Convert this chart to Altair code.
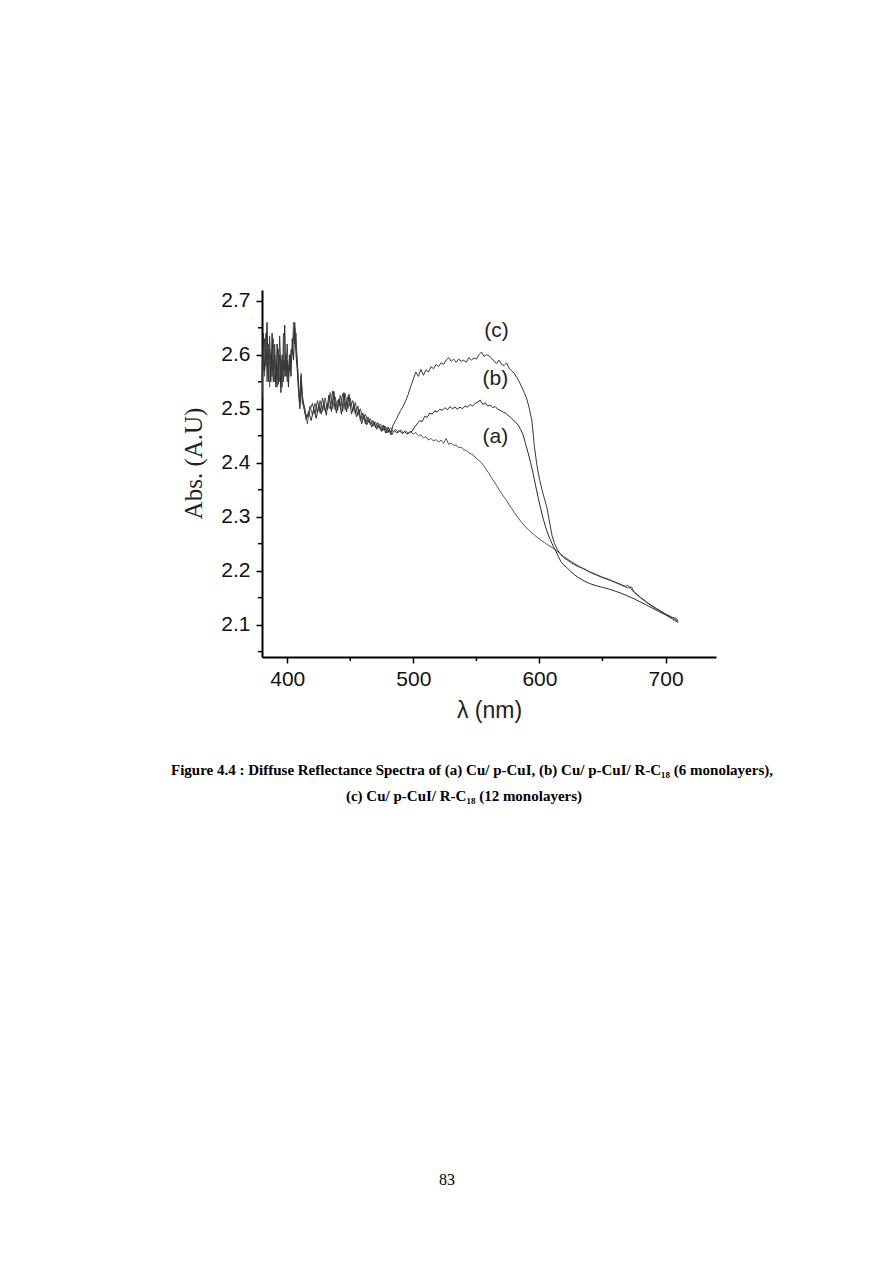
import altair as alt
import pandas as pd

# ---------------- data ----------------
# curve (a) Cu/ p-CuI
A_WL = (list(range(380, 413)) + list(range(414, 581, 2)) +
        [583, 586, 589, 592, 595, 598, 601, 604, 607, 610, 613, 616, 620, 625, 630, 635,
         640, 645, 650, 655, 660, 665, 670, 673, 675, 680, 685, 690, 695, 700, 705, 710])
A_ABS = ([2.52, 2.60, 2.56, 2.64, 2.55, 2.62, 2.54, 2.60, 2.56, 2.63,
          2.55, 2.58, 2.54, 2.61, 2.55, 2.59, 2.54, 2.64, 2.56, 2.60,
          2.55, 2.58, 2.57, 2.61, 2.60, 2.66, 2.62, 2.64, 2.58, 2.55,
          2.51, 2.56, 2.52] +
         [2.500, 2.472, 2.505, 2.488, 2.510, 2.492, 2.515, 2.495, 2.520, 2.498,
          2.530, 2.500, 2.522, 2.497, 2.525, 2.495, 2.528, 2.500, 2.520, 2.495,
          2.512, 2.488, 2.500, 2.480, 2.490, 2.475, 2.482, 2.468, 2.476, 2.465,
          2.472, 2.460, 2.468, 2.456, 2.465, 2.457, 2.462, 2.456, 2.461, 2.455,
          2.459, 2.454, 2.457, 2.453] +
         [2.456, 2.450, 2.452, 2.446, 2.448, 2.442, 2.445, 2.440, 2.443, 2.438,
          2.442, 2.436, 2.445, 2.434, 2.436, 2.432, 2.433, 2.428, 2.429, 2.424,
          2.423, 2.419, 2.416, 2.413, 2.408, 2.404, 2.400, 2.394, 2.387, 2.380,
          2.372, 2.365, 2.358, 2.350, 2.343, 2.336, 2.330, 2.322, 2.315, 2.308] +
         [2.298, 2.289, 2.281, 2.274, 2.268, 2.262, 2.257, 2.252, 2.247, 2.243,
          2.238, 2.232, 2.225, 2.217, 2.210, 2.203, 2.198, 2.193, 2.188, 2.184,
          2.178, 2.173, 2.168, 2.170, 2.161, 2.151, 2.142, 2.134, 2.127, 2.120,
          2.114, 2.106])

# curve (b) Cu/ p-CuI/ R-C18 (6 monolayers)
B_WL = (list(range(380, 413)) + list(range(413, 500, 2)) + list(range(501, 620, 2)) +
        [622, 625, 628, 631, 634, 637, 640, 645, 650, 655, 660, 665, 670, 675, 680,
         685, 690, 695, 700, 705, 710])
B_ABS = ([2.55, 2.64, 2.57, 2.60, 2.66, 2.56, 2.61, 2.55, 2.64, 2.57,
          2.60, 2.54, 2.62, 2.57, 2.60, 2.53, 2.59, 2.57, 2.655, 2.56,
          2.59, 2.54, 2.60, 2.56, 2.63, 2.59, 2.65, 2.60, 2.57, 2.53,
          2.50, 2.555, 2.51] +
         [2.505, 2.480, 2.495, 2.478, 2.500, 2.482, 2.508, 2.490, 2.512, 2.488,
          2.525, 2.495, 2.532, 2.492, 2.518, 2.490, 2.530, 2.494, 2.527, 2.490,
          2.508, 2.485, 2.498, 2.472, 2.488, 2.470, 2.480, 2.466, 2.475, 2.462,
          2.470, 2.458, 2.468, 2.455, 2.462, 2.452, 2.460, 2.455, 2.460, 2.454,
          2.458, 2.453, 2.457, 2.458] +
         [2.466, 2.472, 2.478, 2.476, 2.486, 2.484, 2.492, 2.490, 2.496, 2.494,
          2.499, 2.497, 2.502, 2.498, 2.504, 2.500, 2.503, 2.499, 2.503, 2.500,
          2.505, 2.503, 2.508, 2.505, 2.510, 2.512, 2.516, 2.508, 2.511, 2.505,
          2.507, 2.502, 2.504, 2.499, 2.497, 2.494, 2.492, 2.488, 2.484, 2.480,
          2.475, 2.470, 2.462, 2.452, 2.435, 2.418, 2.400, 2.380, 2.357, 2.335,
          2.315, 2.296, 2.280, 2.266, 2.255, 2.245, 2.236, 2.226, 2.217, 2.211] +
         [2.205, 2.198, 2.192, 2.187, 2.183, 2.179, 2.176, 2.172, 2.169, 2.166,
          2.162, 2.158, 2.153, 2.148, 2.142, 2.136, 2.130, 2.124, 2.118, 2.111,
          2.104])

# curve (c) Cu/ p-CuI/ R-C18 (12 monolayers)
C_WL = (list(range(380, 413)) + list(range(414, 485, 2)) + list(range(486, 621, 2)) +
        [625, 630, 635, 640, 645, 650, 655, 660, 665, 668, 670, 672, 675, 680, 685,
         690, 695, 700, 705, 708, 710])
C_ABS = ([2.58, 2.57, 2.63, 2.58, 2.61, 2.55, 2.635, 2.57, 2.59, 2.55,
          2.62, 2.56, 2.58, 2.545, 2.635, 2.57, 2.60, 2.55, 2.59, 2.57,
          2.62, 2.56, 2.60, 2.58, 2.61, 2.63, 2.66, 2.61, 2.59, 2.54,
          2.505, 2.565, 2.525] +
         [2.492, 2.485, 2.498, 2.510, 2.490, 2.515, 2.493, 2.520, 2.496, 2.510,
          2.500, 2.533, 2.498, 2.515, 2.505, 2.528, 2.498, 2.522, 2.503, 2.515,
          2.490, 2.505, 2.478, 2.492, 2.472, 2.485, 2.470, 2.478, 2.465, 2.474,
          2.460, 2.470, 2.455, 2.466, 2.452, 2.470] +
         [2.478, 2.488, 2.497, 2.505, 2.515, 2.527, 2.542, 2.555, 2.568, 2.560,
          2.573, 2.562, 2.572, 2.568, 2.578, 2.574, 2.582, 2.578, 2.585, 2.582,
          2.590, 2.595, 2.588, 2.592, 2.586, 2.592, 2.588, 2.590, 2.586, 2.595,
          2.590, 2.594, 2.592, 2.600, 2.605, 2.597, 2.600, 2.598, 2.594, 2.588,
          2.584, 2.590, 2.582, 2.580, 2.585, 2.575, 2.570, 2.566, 2.558, 2.550,
          2.540, 2.530, 2.518, 2.500, 2.478, 2.430, 2.395, 2.370, 2.350, 2.333,
          2.316, 2.290, 2.265, 2.250, 2.240, 2.232, 2.227, 2.223] +
         [2.215, 2.208, 2.204, 2.197, 2.192, 2.187, 2.183, 2.179, 2.174, 2.171,
          2.173, 2.168, 2.160, 2.150, 2.141, 2.133, 2.126, 2.119, 2.113, 2.112,
          2.108])

SERIES = ["a", "b", "c"]
SERIES_COLORS = ["#555555", "#2b2b2b", "#3a3a3a"]

LABEL_TEXT = ["(c)", "(b)", "(a)"]
LABEL_WL = [566, 565, 565]
LABEL_ABS = [2.644, 2.556, 2.447]

X_TICKS = [400, 500, 600, 700]
X_MINOR = [450, 550, 650]
Y_TICKS = [2.1, 2.2, 2.3, 2.4, 2.5, 2.6, 2.7]
Y_MINOR = [2.05, 2.15, 2.25, 2.35, 2.45, 2.55, 2.65]

CAPTION_1 = "Figure 4.4 : Diffuse Reflectance Spectra of (a) Cu/ p-CuI, (b) Cu/ p-CuI/ R-C₁₈ (6 monolayers),"
CAPTION_2 = "(c) Cu/ p-CuI/ R-C₁₈ (12 monolayers)"
PAGE_NO = "83"

# ---------------- build ----------------
frames = []
for name, wl, ab in [("a", A_WL, A_ABS), ("b", B_WL, B_ABS), ("c", C_WL, C_ABS)]:
    f = pd.DataFrame({"wl": wl, "abs": ab})
    f["series"] = name
    frames.append(f)
df = pd.concat(frames, ignore_index=True)

W, H = 454, 367
x_scale = alt.Scale(domain=[380, 740], nice=False, zero=False)
y_scale = alt.Scale(domain=[2.04, 2.72], nice=False, zero=False)

X_AXIS = alt.Axis(title="λ (nm)", values=X_TICKS, format="d",
                  titleFont="Liberation Sans", titleFontSize=23,
                  titleFontWeight="normal", titleColor="#222",
                  titlePadding=10, labelPadding=5, tickSize=6)
Y_AXIS = alt.Axis(title="Abs. (A.U)", values=Y_TICKS, format=".1f",
                  titleFont="Liberation Serif", titleFontSize=25,
                  titleFontWeight="normal", titleColor="#222",
                  titlePadding=14, titleY=173, labelPadding=6, tickSize=6)

lines = alt.Chart(df).mark_line(strokeWidth=1).encode(
    x=alt.X("wl:Q", scale=x_scale, axis=X_AXIS),
    y=alt.Y("abs:Q", scale=y_scale, axis=Y_AXIS),
    color=alt.Color("series:N", scale=alt.Scale(domain=SERIES, range=SERIES_COLORS),
                    legend=None),
)

labels = alt.Chart(pd.DataFrame({"wl": LABEL_WL, "abs": LABEL_ABS, "t": LABEL_TEXT})).mark_text(
    font="Liberation Sans", fontSize=21, color="#222"
).encode(
    x=alt.X("wl:Q", scale=x_scale, axis=X_AXIS),
    y=alt.Y("abs:Q", scale=y_scale, axis=Y_AXIS),
    text="t:N",
)

minor_x = alt.Chart(pd.DataFrame({"wl": X_MINOR})).mark_rule(color="black", strokeWidth=1.5).encode(
    x=alt.X("wl:Q", scale=x_scale, axis=X_AXIS),
    y=alt.value(H),
    y2=alt.value(H + 4),
)

minor_y = alt.Chart(pd.DataFrame({"abs": Y_MINOR})).mark_rule(color="black", strokeWidth=1.5).encode(
    y=alt.Y("abs:Q", scale=y_scale, axis=Y_AXIS),
    x=alt.value(-4),
    x2=alt.value(0),
)

cap1 = alt.Chart(pd.DataFrame({"t": [CAPTION_1]})).mark_text(
    font="Liberation Serif", fontSize=15, fontWeight="bold", color="black", align="center"
).encode(text="t:N", x=alt.value(210), y=alt.value(480))

cap2 = alt.Chart(pd.DataFrame({"t": [CAPTION_2]})).mark_text(
    font="Liberation Serif", fontSize=15, fontWeight="bold", color="black", align="center"
).encode(text="t:N", x=alt.value(202), y=alt.value(506))

page = alt.Chart(pd.DataFrame({"t": [PAGE_NO]})).mark_text(
    font="Liberation Serif", fontSize=16, color="black", align="center"
).encode(text="t:N", x=alt.value(185), y=alt.value(890))

chart = alt.layer(lines, minor_x, minor_y, labels, cap1, cap2, page).properties(
    width=W, height=H,
    autosize=alt.AutoSizeParams(type="none"),
    padding={"left": 254, "top": 282, "right": 169, "bottom": 560},
    background="white",
).configure_view(stroke=None).configure_axis(
    grid=False, domainColor="black", domainWidth=2, tickColor="black", tickWidth=1.5,
    labelFont="Liberation Sans", labelFontSize=21, labelColor="#111",
)

chart.save("out.html", embed_options={"renderer": "svg", "actions": False})
